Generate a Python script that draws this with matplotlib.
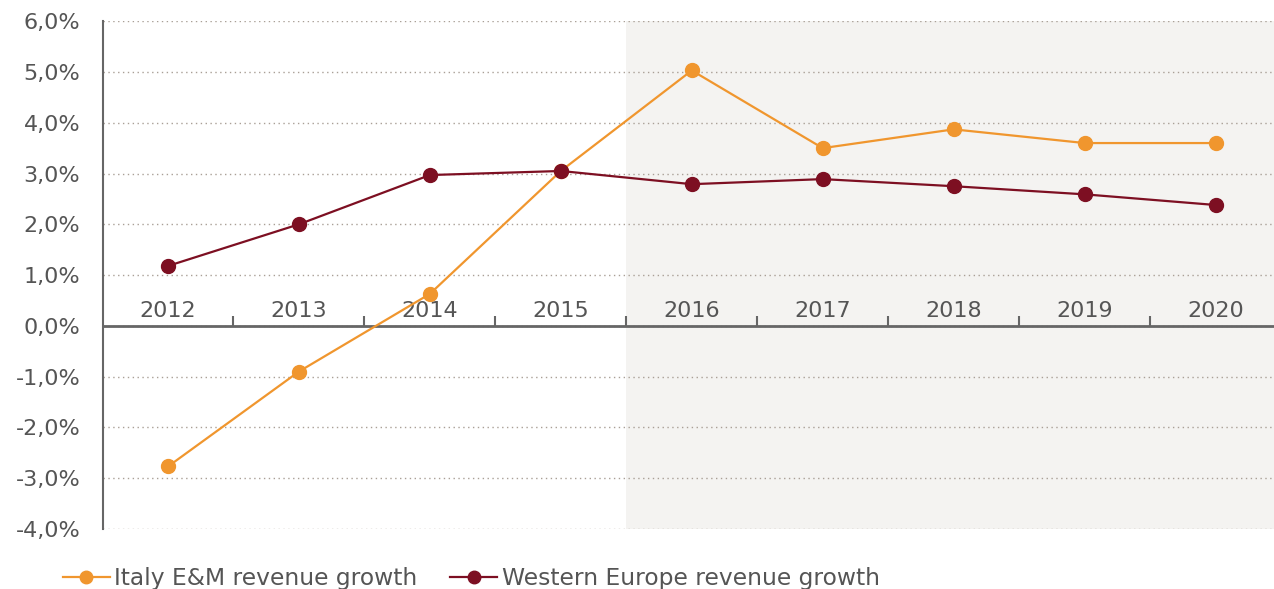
import matplotlib
matplotlib.use("Agg")
import matplotlib.pyplot as plt
from matplotlib.ticker import FuncFormatter

years = ["2012", "2013", "2014", "2015", "2016", "2017", "2018", "2019", "2020"]
italy = [-2.77, -0.90, 0.63, 3.05, 5.03, 3.50, 3.87, 3.60, 3.60]
west_europe = [1.18, 2.00, 2.97, 3.05, 2.79, 2.89, 2.75, 2.59, 2.38]
forecast_start = 3.5

ORANGE = "#F0962E"
DARKRED = "#7D0F22"
GRAY = "#555555"
FS = 16

plt.rcParams['font.family'] = ['DejaVu Sans']

fig = plt.figure(figsize=(12.74, 5.89), dpi=100)
ax = fig.add_axes([0.0805, 0.102, 0.925, 0.862])

x = list(range(len(years)))
ax.set_xlim(-0.5, len(years) - 0.5)
ax.set_ylim(-4, 6)

ax.axvspan(forecast_start, len(years) - 0.5, ymin=0, ymax=1, color="#F4F3F1", zorder=0, lw=0)

for v in range(-4, 7):
    ax.axhline(v, color="#A99F96", lw=1.0, ls=(0, (1, 2.5)), zorder=1)
ax.axhline(0, color="#666666", lw=2.0, zorder=2)

ax.vlines([i + 0.5 for i in range(len(years) - 1)], 0, 0.2, color="#666666", lw=1.5, zorder=2)
for i, yl in enumerate(years):
    ax.text(i, 0.29, yl, ha="center", va="center", fontsize=FS, color=GRAY, zorder=3)

ax.plot(x, italy, color=ORANGE, lw=1.6, marker="o", ms=10, mec=ORANGE, zorder=4,
        label="Italy E&M revenue growth")
ax.plot(x, west_europe, color=DARKRED, lw=1.6, marker="o", ms=10, mec=DARKRED, zorder=4,
        label="Western Europe revenue growth")

ax.set_yticks(range(-4, 7))
ax.yaxis.set_major_formatter(FuncFormatter(lambda v, p: f"{v:.1f}%".replace(".", ",")))
ax.tick_params(axis="y", length=0, pad=16, labelsize=FS, labelcolor=GRAY)
ax.set_xticks([])
for s in ["top", "right", "bottom"]:
    ax.spines[s].set_visible(False)
ax.spines["left"].set_color("#666666")
ax.spines["left"].set_linewidth(1.5)

fig.legend(loc="lower left", bbox_to_anchor=(0.033, -0.037), ncol=2, frameon=False,
           fontsize=16.8, labelcolor=GRAY, handlelength=2.0, handletextpad=0.2,
           columnspacing=1.4, markerscale=0.9)

fig.savefig("out.png", dpi=100)
